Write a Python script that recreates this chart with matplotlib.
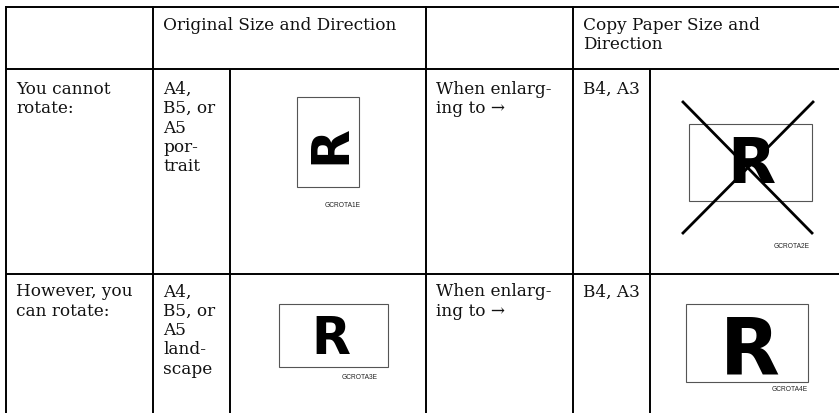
import matplotlib
matplotlib.use("Agg")
import matplotlib.pyplot as plt
from matplotlib.patches import Rectangle

# table contents
header_original = ["Original Size and Direction"]
header_copy = ["Copy Paper Size and", "Direction"]
row_labels = [["You cannot", "rotate:"], ["However, you", "can rotate:"]]
original_sizes = [["A4,", "B5, or", "A5", "por-", "trait"],
                  ["A4,", "B5, or", "A5", "land-", "scape"]]
action_text = [["When enlarg-", "ing to \u2192"], ["When enlarg-", "ing to \u2192"]]
copy_sizes = [["B4, A3"], ["B4, A3"]]
figure_codes = [["GCROTA1E", "GCROTA2E"], ["GCROTA3E", "GCROTA4E"]]
copy_allowed = [False, True]

W, H = 839, 413
fig = plt.figure(figsize=(W / 100, H / 100), dpi=100)
ax = fig.add_axes([0, 0, 1, 1])
ax.set_xlim(0, W)
ax.set_ylim(H, 0)
ax.axis("off")

serif = "DejaVu Serif"
fs = 12.2
lead = 19.3
line_kw = dict(color="black", lw=1.4, solid_capstyle="butt")

# grid
top, head, mid = 7, 69, 274
for y in (top, head, mid):
    ax.plot([6, W], [y, y], **line_kw)
for x in (6, 153, 426, 573):
    ax.plot([x, x], [top - 0.7, H], **line_kw)
for x in (230, 650):
    ax.plot([x, x], [head, H], **line_kw)


def lines(x, y0, txt):
    for i, t in enumerate(txt):
        ax.text(x, y0 + i * lead, t, family=serif, fontsize=fs,
                ha="left", va="baseline", color="#111111")


lines(163, 29.5, header_original)
lines(583, 29.5, header_copy)

row_base = [94, 296.5]
for r in range(2):
    y0 = row_base[r]
    lines(16, y0, row_labels[r])
    lines(163, y0, original_sizes[r])
    lines(436, y0, action_text[r])
    lines(583, y0, copy_sizes[r])


def paper(x0, y0, x1, y1):
    ax.add_patch(Rectangle((x0, y0), x1 - x0, y1 - y0, fill=False,
                           edgecolor="#555555", lw=0.8))


def code(x, y, t):
    ax.text(x, y, t, family="Liberation Sans", fontsize=4.8,
            ha="right", va="baseline", color="#222222")


glyph = dict(family="DejaVu Sans", weight="bold", color="black")

# row 1, original: portrait with rotated R
paper(297, 97, 359, 187)
ax.text(345, 145, "R", fontsize=36.5, rotation=90, rotation_mode="anchor",
        ha="center", va="baseline", **glyph)
code(361, 207, figure_codes[0][0])

# row 1, copy: landscape crossed out
paper(689, 124, 812, 201)
ax.text(751, 183, "R", fontsize=45, ha="center", va="baseline", **glyph)
if not copy_allowed[0]:
    ax.plot([683, 812], [102, 233], color="black", lw=2, zorder=5)
    ax.plot([813, 683], [102, 233], color="black", lw=2, zorder=5)
code(810, 248, figure_codes[0][1])

# row 2, original: landscape
paper(279, 304, 388, 367)
ax.text(331, 354, "R", fontsize=36.5, ha="center", va="baseline", **glyph)
code(378, 379, figure_codes[1][0])

# row 2, copy: landscape
paper(686, 304, 808, 382)
ax.text(750, 374, "R", fontsize=56, ha="center", va="baseline", **glyph)
code(808, 391, figure_codes[1][1])

fig.savefig("out.png", dpi=100, facecolor="white")
